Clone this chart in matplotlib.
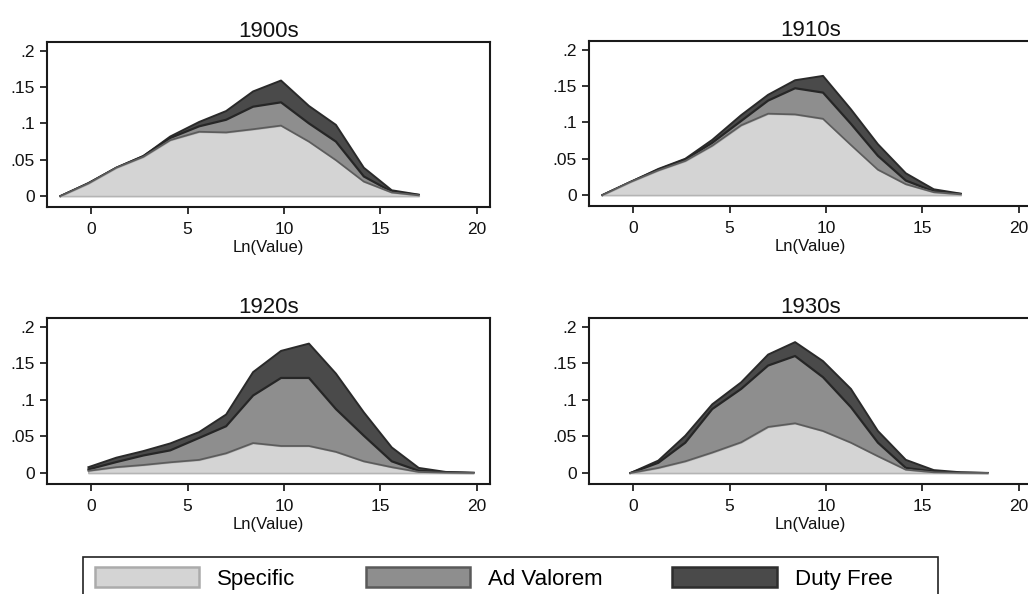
import matplotlib
matplotlib.use("Agg")
import matplotlib.pyplot as plt
import numpy as np
from matplotlib.patches import Patch, Rectangle

plt.rcParams['font.family'] = ['Liberation Sans', 'DejaVu Sans']

# ---- data ----
x_1900 = [-1.6, -0.15, 1.3, 2.7, 4.1, 5.6, 7.0, 8.4, 9.85, 11.3, 12.7, 14.15, 15.6, 17.0]
spec_1900 = [0.0, 0.0174, 0.039, 0.054, 0.077, 0.0885, 0.0876, 0.092, 0.097, 0.075, 0.0495, 0.020, 0.005, 0.001]
adv_1900 = [0.0, 0.0, 0.0, 0.001, 0.003, 0.0075, 0.0174, 0.031, 0.032, 0.025, 0.0255, 0.007, 0.001, 0.0005]
free_1900 = [0.0, 0.0006, 0.0, 0.0, 0.002, 0.006, 0.012, 0.021, 0.030, 0.024, 0.023, 0.012, 0.002, 0.0005]

x_1910 = [-1.6, -0.15, 1.3, 2.7, 4.1, 5.6, 7.0, 8.4, 9.85, 11.3, 12.7, 14.15, 15.6, 17.0]
spec_1910 = [0.0, 0.018, 0.034, 0.047, 0.068, 0.096, 0.112, 0.111, 0.105, 0.069, 0.035, 0.015, 0.004, 0.001]
adv_1910 = [0.0, 0.0, 0.001, 0.002, 0.004, 0.006, 0.018, 0.036, 0.036, 0.029, 0.019, 0.005, 0.001, 0.0005]
free_1910 = [0.0, 0.0, 0.001, 0.001, 0.004, 0.008, 0.008, 0.011, 0.023, 0.020, 0.016, 0.010, 0.003, 0.0005]

x_1920 = [-0.15, 1.3, 2.7, 4.1, 5.6, 7.0, 8.4, 9.85, 11.3, 12.7, 14.15, 15.6, 17.0, 18.4, 19.85]
spec_1920 = [0.003, 0.008, 0.011, 0.0147, 0.018, 0.027, 0.041, 0.037, 0.037, 0.029, 0.016, 0.008, 0.0015, 0.0005, 0.0001]
adv_1920 = [0.002, 0.007, 0.013, 0.0163, 0.030, 0.037, 0.065, 0.093, 0.093, 0.0585, 0.035, 0.008, 0.0015, 0.0005, 0.0001]
free_1920 = [0.003, 0.006, 0.006, 0.0095, 0.008, 0.016, 0.032, 0.037, 0.047, 0.0485, 0.032, 0.019, 0.004, 0.0005, 0.0001]

x_1930 = [-0.15, 1.3, 2.7, 4.1, 5.6, 7.0, 8.4, 9.85, 11.3, 12.7, 14.15, 15.6, 17.0, 18.4]
spec_1930 = [0.0, 0.007, 0.016, 0.028, 0.042, 0.063, 0.068, 0.0575, 0.0415, 0.023, 0.0046, 0.001, 0.0003, 0.0]
adv_1930 = [0.0, 0.007, 0.0255, 0.0595, 0.073, 0.084, 0.092, 0.0735, 0.0485, 0.0185, 0.0024, 0.001, 0.0002, 0.0]
free_1930 = [0.0, 0.003, 0.0095, 0.0065, 0.009, 0.015, 0.019, 0.022, 0.025, 0.016, 0.011, 0.002, 0.0005, 0.0]

decades = ["1900s", "1910s", "1920s", "1930s"]
series_names = ["Specific", "Ad Valorem", "Duty Free"]
x_ticks = [0, 5, 10, 15, 20]
y_ticks = [0, 0.05, 0.1, 0.15, 0.2]
y_ticklabels = ["0", ".05", ".1", ".15", ".2"]

panels = [
    (x_1900, spec_1900, adv_1900, free_1900),
    (x_1910, spec_1910, adv_1910, free_1910),
    (x_1920, spec_1920, adv_1920, free_1920),
    (x_1930, spec_1930, adv_1930, free_1930),
]

# ---- styles ----
fills = ["#d4d4d4", "#8e8e8e", "#4a4a4a"]
tops = ["#5c5c5c", "#262626", "#2a2a2a"]
legend_edges = ["#ababab", "#5a5a5a", "#2e2e2e"]

W, H = 1028, 594
fig = plt.figure(figsize=(W / 100, H / 100), dpi=100)

# axes boxes in pixels: (left, top, right, bottom)
boxes = [(47, 42, 490, 207), (589, 41, 1032, 206),
         (47, 318, 490, 484), (589, 318, 1032, 484)]

for (l, t, r, b), title, (x, s, a, f) in zip(boxes, decades, panels):
    ax = fig.add_axes([l / W, 1 - b / H, (r - l) / W, (b - t) / H])
    x = np.array(x)
    s = np.array(s)
    sa = s + np.array(a)
    tot = sa + np.array(f)
    ax.fill_between(x, 0, tot, facecolor=fills[2], edgecolor="none", zorder=1)
    ax.plot(x, tot, color=tops[2], lw=1.4, zorder=2)
    ax.fill_between(x, 0, sa, facecolor=fills[1], edgecolor="none", zorder=3)
    ax.plot(x, sa, color=tops[1], lw=1.6, zorder=4)
    ax.fill_between(x, 0, s, facecolor=fills[0], edgecolor="#b4b4b4", lw=1.2, zorder=5)
    ax.plot(x, s, color=tops[0], lw=1.3, zorder=6)

    ax.set_xlim(-2.3, 20.7)
    ax.set_ylim(-0.015, 0.212)
    ax.set_xticks(x_ticks)
    ax.set_yticks(y_ticks)
    ax.set_yticklabels(y_ticklabels)
    ax.tick_params(axis="both", direction="out", length=5, width=1.2,
                   labelsize=12.5, colors="#111111")
    ax.tick_params(axis="x", pad=6)
    ax.tick_params(axis="y", pad=4)
    for sp in ax.spines.values():
        sp.set_linewidth(1.5)
        sp.set_color("#1a1a1a")
    ax.set_xlabel("Ln(Value)", fontsize=12, labelpad=2, color="#111111")
    ax.set_title(title, fontsize=16, pad=3, color="#111111")

# legend
handles = [Patch(facecolor=fc, edgecolor=ec, linewidth=1.8)
           for fc, ec in zip(fills, legend_edges)]
fig.legend(handles, series_names, loc="center left",
           bbox_to_anchor=(95 / W, 1 - 578.5 / H), ncol=3, frameon=False,
           fontsize=16, handlelength=4.7, handleheight=1.0,
           handletextpad=0.8, columnspacing=3.15, borderpad=0,
           borderaxespad=0)
fig.patches.append(Rectangle((83 / W, -0.1), (938 - 83) / W, 0.1 + (1 - 557 / H),
                             transform=fig.transFigure, fill=False,
                             edgecolor="#222222", lw=1.2))

fig.savefig("out.png", dpi=100, facecolor="white")
